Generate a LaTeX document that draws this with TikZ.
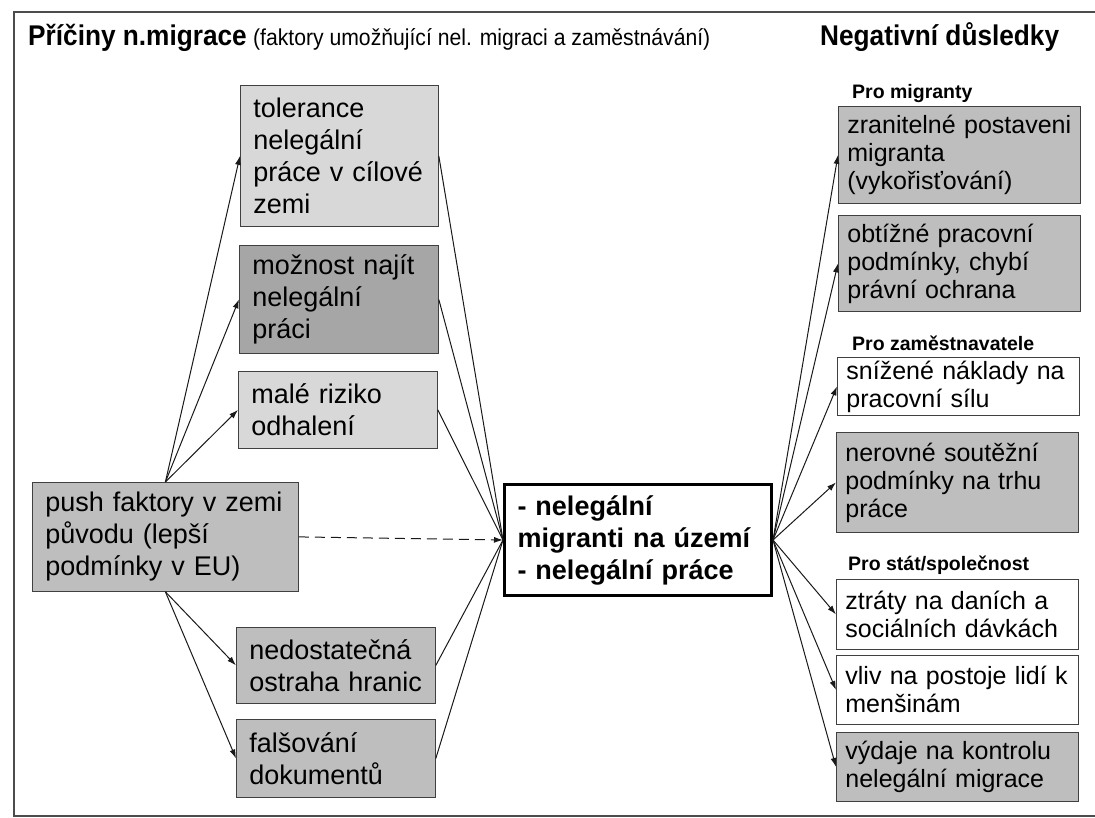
\documentclass[tikz,border=0pt]{standalone}
\usepackage{fontspec}
\setmainfont{Liberation Sans}
\newfontfamily\narrowsans[FakeStretch=0.92]{Liberation Sans}
\usetikzlibrary{arrows.meta,positioning}
\definecolor{boxlight}{HTML}{D8D8D8}
\definecolor{boxmid}{HTML}{BEBEBE}
\definecolor{boxdark}{HTML}{A6A6A6}
\begin{document}
\begin{tikzpicture}[x=1pt, y=-1pt,
		box/.style={draw=black!75, line width=0.8pt, align=left, anchor=north west, inner xsep=13pt, inner ysep=0pt, font=\fontsize{27}{32}\selectfont},
		rbox/.style={box, inner xsep=9pt, text width=224pt, font=\fontsize{25}{28}\selectfont},
		head/.style={anchor=base west, inner sep=0pt, font=\narrowsans\bfseries\fontsize{28.5}{32}\selectfont},
		group/.style={anchor=base west, inner sep=0pt, font=\bfseries\fontsize{19.5}{22}\selectfont},
		link/.style={draw=black!90, line width=1pt},
		tip/.style={link, -{Latex[length=9pt, width=6pt]}},
	]
		\useasboundingbox (0,0) rectangle (1095,818);
		\draw[line width=2.5pt, black!70] (1100,12) -- (14,12) -- (14,816) -- (1100,816);

		\node (tit) [head] at (28,46) {Příčiny n.migrace};
		\node (sub) [anchor=base west, inner sep=0pt, font=\narrowsans\fontsize{23}{26}\selectfont] at ([xshift=6pt]tit.base east) {(faktory umožňující nel. migraci a zaměstnávání)};
		\node (neg) [head] at (820,46) {Negativní důsledky};

		\node (tol) [box, fill=boxlight, text width=172pt, minimum height=141pt] at (240,85) {tolerance\\nelegální\\práce v cílové\\zemi};
		\node (mozn) [box, fill=boxdark, text width=173pt, minimum height=108pt] at (239,245) {možnost najít\\nelegální\\práci};
		\node (riz) [box, fill=boxlight, text width=173pt, minimum height=77pt] at (238,371) {malé riziko\\odhalení};
		\node (push) [box, fill=boxmid, text width=240pt, minimum height=109pt] at (32,482) {push faktory v zemi\\původu (lepší\\podmínky v EU)};
		\node (hran) [box, fill=boxmid, text width=173pt, minimum height=76pt] at (236,627) {nedostatečná\\ostraha hranic};
		\node (dok) [box, fill=boxmid, text width=173pt, minimum height=78pt] at (236,719) {falšování\\dokumentů};

		\node (mid) [box, fill=white, draw=black, line width=3pt, text width=241pt, minimum height=111pt, font=\bfseries\fontsize{27}{32}\selectfont] at (503,483) {- nelegální\\migranti na území\\- nelegální práce};

		\node (gmig) [group] at (852,99) {Pro migranty};
		\node (zran) [rbox, fill=boxmid, minimum height=97pt] at (838,106) {zranitelné postaveni\\migranta\\(vykořisťování)};
		\node (obt) [rbox, fill=boxmid, minimum height=96pt] at (838,215) {obtížné pracovní\\podmínky, chybí\\právní ochrana};
		\node (gzam) [group] at (852,350) {Pro zaměstnavatele};
		\node (nakl) [rbox, fill=white, minimum height=58pt] at (837,357) {snížené náklady na\\pracovní sílu};
		\node (sout) [rbox, fill=boxmid, minimum height=100pt] at (836,432) {nerovné soutěžní\\podmínky na trhu\\práce};
		\node (gsta) [group] at (848,570) {Pro stát/společnost};
		\node (dan) [rbox, fill=white, minimum height=70pt] at (836,579) {ztráty na daních a\\sociálních dávkách};
		\node (vliv) [rbox, fill=white, minimum height=69pt] at (836,655) {vliv na postoje lidí k\\menšinám};
		\node (vyd) [rbox, fill=boxmid, minimum height=69pt] at (836,732) {výdaje na kontrolu\\nelegální migrace};

		\draw[tip] (push.north) -- (tol.west);
		\draw[tip] (push.north) -- (mozn.west);
		\draw[tip] (push.north) -- (riz.west);
		\draw[tip] (push.south) -- (hran.west);
		\draw[tip] (push.south) -- (dok.west);
		\draw[tip, dash pattern=on 10pt off 6pt] (push.east) -- (mid.west);

		\foreach \src in {tol,mozn,riz,hran,dok}
			\draw[link] (\src.east) -- (mid.west);
		\foreach \dst in {zran,obt,nakl,sout,dan,vliv,vyd}
			\draw[tip] (mid.east) -- (\dst.west);
	\end{tikzpicture}
\end{document}
